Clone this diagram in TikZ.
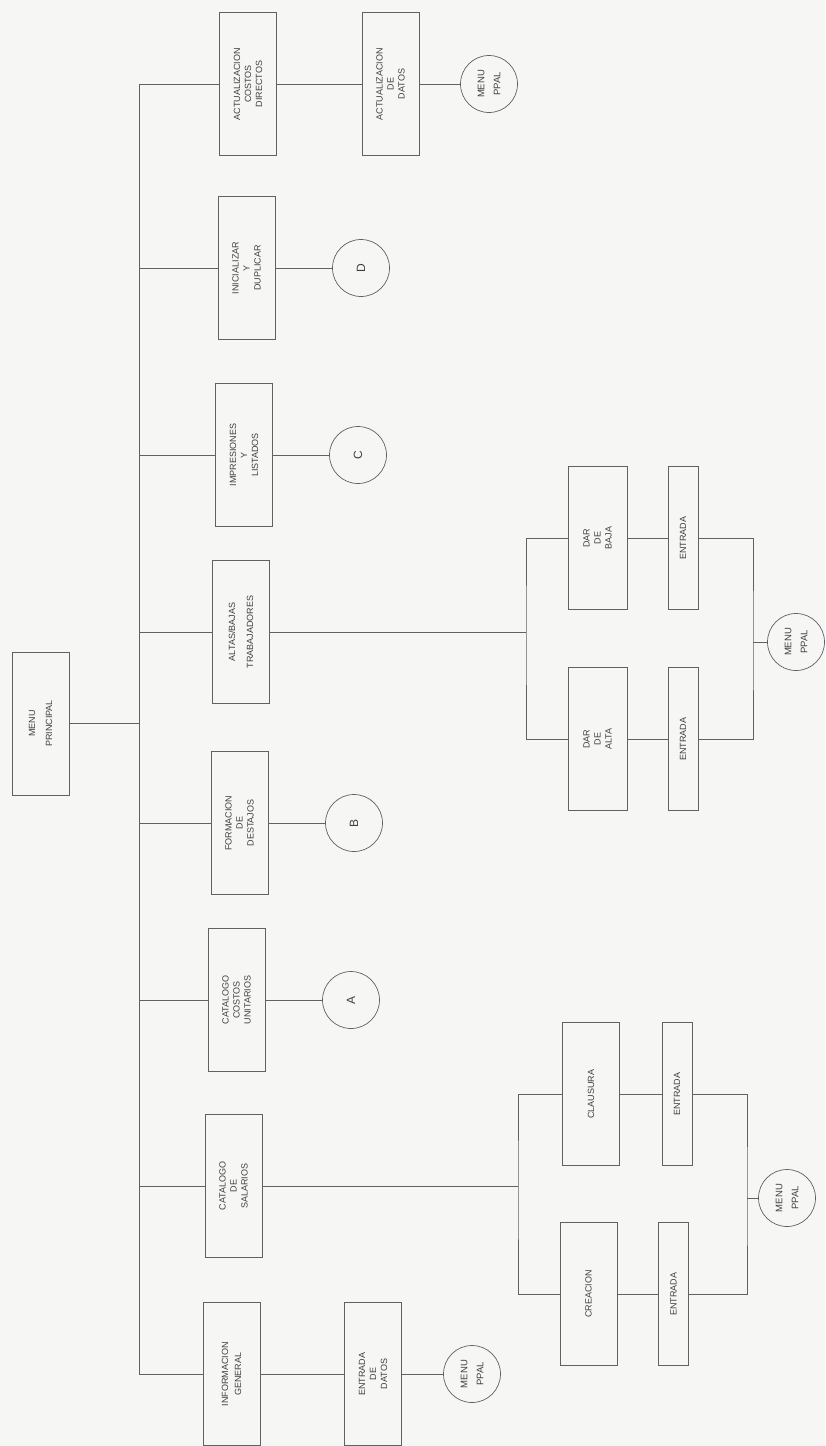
\documentclass[tikz,border=0pt]{standalone}
\usepackage{fontspec}
\setmainfont{Liberation Sans}
\definecolor{papel}{rgb}{0.965,0.965,0.955}
\definecolor{trazo}{gray}{0.38}
\tikzset{
  linea/.style={draw=trazo, line width=0.7pt},
  caja/.style={linea, rotate=90, minimum width=143, minimum height=57,
    inner sep=1pt, align=center, text=black!75,
    font=\fontsize{9}{11}\selectfont},
  cajita/.style={caja, minimum height=30},
  conector/.style={linea, circle, rotate=90, minimum size=57, inner sep=0pt,
    align=center, text=black!75, font=\fontsize{9.5}{11}\selectfont},
  letra/.style={conector, font=\fontsize{12}{14}\selectfont}
}
\begin{document}
\begin{tikzpicture}[x=1pt,y=-1pt]

\fill[papel] (0,0) rectangle (825,1446);
\useasboundingbox (0,0) rectangle (825,1446);

% Menu principal
\node[caja] (menu) at (40.5,723.5) {MENU\\[6pt]PRINCIPAL};

\coordinate (bustop) at (139,84);
\coordinate (busbot) at (139,1374);

% Opciones
\node[caja] (actcos) at (248,84) {ACTUALIZACION\\COSTOS\\DIRECTOS};
\node[caja] (inidup) at (246.5,268) {INICIALIZAR\\Y\\DUPLICAR};
\node[caja] (implis) at (244,455) {IMPRESIONES\\Y\\LISTADOS};
\node[caja] (altbaj) at (241,632) {ALTAS/BAJAS\\[7pt]TRABAJADORES};
\node[caja] (fordes) at (239.5,823) {FORMACION\\DE\\DESTAJOS};
\node[caja] (catcos) at (236.5,1000) {CATALOGO\\COSTOS\\UNITARIOS};
\node[caja] (catsal) at (233.5,1186) {CATALOGO\\DE\\SALARIOS};
\node[caja] (infgen) at (231.5,1374) {INFORMACION\\[2pt]GENERAL};

\draw[linea] (menu) -- (menu -| bustop);
\draw[linea] (bustop) -- (busbot);
\foreach \n in {actcos,inidup,implis,altbaj,fordes,catcos,catsal,infgen}
{
    \draw[linea] (bustop |- \n) -- (\n);
}

% Conectores A, B, C, D
\node[letra] (conD) at (361,268) {D};
\node[letra] (conC) at (358,455) {C};
\node[letra] (conB) at (354,823) {B};
\node[letra] (conA) at (351,1000) {A};

\foreach \a/\b in {inidup/conD,implis/conC,fordes/conB,catcos/conA}
{
    \draw[linea] (\a) -- (\b);
}

% Actualizacion costos directos
\node[caja] (actdat) at (390.5,84) {ACTUALIZACION\\DE\\DATOS};
\node[conector] (menu1) at (489,84) {MENU\\[5pt]PPAL};
\draw[linea] (actcos) -- (actdat) -- (menu1);

% Informacion general
\node[caja] (entdat) at (373,1374) {ENTRADA\\DE\\DATOS};
\node[conector] (menu3) at (472,1374) {MENU\\[5pt]PPAL};
\draw[linea] (infgen) -- (entdat) -- (menu3);

% Altas / bajas
\coordinate (altsplit) at (526,632);
\coordinate (altjoin) at (753,642);
\node[caja, minimum height=59] (darbaj) at (597.5,538) {DAR\\DE\\BAJA};
\node[cajita] (entbaj) at (683,538) {ENTRADA};
\node[caja, minimum height=59] (daralt) at (597.5,739) {DAR\\DE\\ALTA};
\node[cajita] (entalt) at (683,739) {ENTRADA};
\node[conector] (menu2) at (796,642) {MENU\\[5pt]PPAL};

\draw[linea] (altbaj) -- (altsplit);
\draw[linea] (darbaj) -| (altsplit) |- (daralt);
\draw[linea] (darbaj) -- (entbaj);
\draw[linea] (daralt) -- (entalt);
\draw[linea] (entbaj) -| (altjoin) |- (entalt);
\draw[linea] (altjoin) -- (menu2);

% Catalogo de salarios
\coordinate (salsplit) at (518,1186);
\coordinate (saljoin) at (747,1198);
\node[caja] (clausu) at (591,1094) {CLAUSURA};
\node[cajita] (entcla) at (677,1094) {ENTRADA};
\node[caja] (creaci) at (588.5,1294) {CREACION};
\node[cajita] (entcre) at (673.5,1294) {ENTRADA};
\node[conector] (menu4) at (787,1198) {MENU\\[5pt]PPAL};

\draw[linea] (catsal) -- (salsplit);
\draw[linea] (clausu) -| (salsplit) |- (creaci);
\draw[linea] (clausu) -- (entcla);
\draw[linea] (creaci) -- (entcre);
\draw[linea] (entcla) -| (saljoin) |- (entcre);
\draw[linea] (saljoin) -- (menu4);

\end{tikzpicture}
\end{document}
